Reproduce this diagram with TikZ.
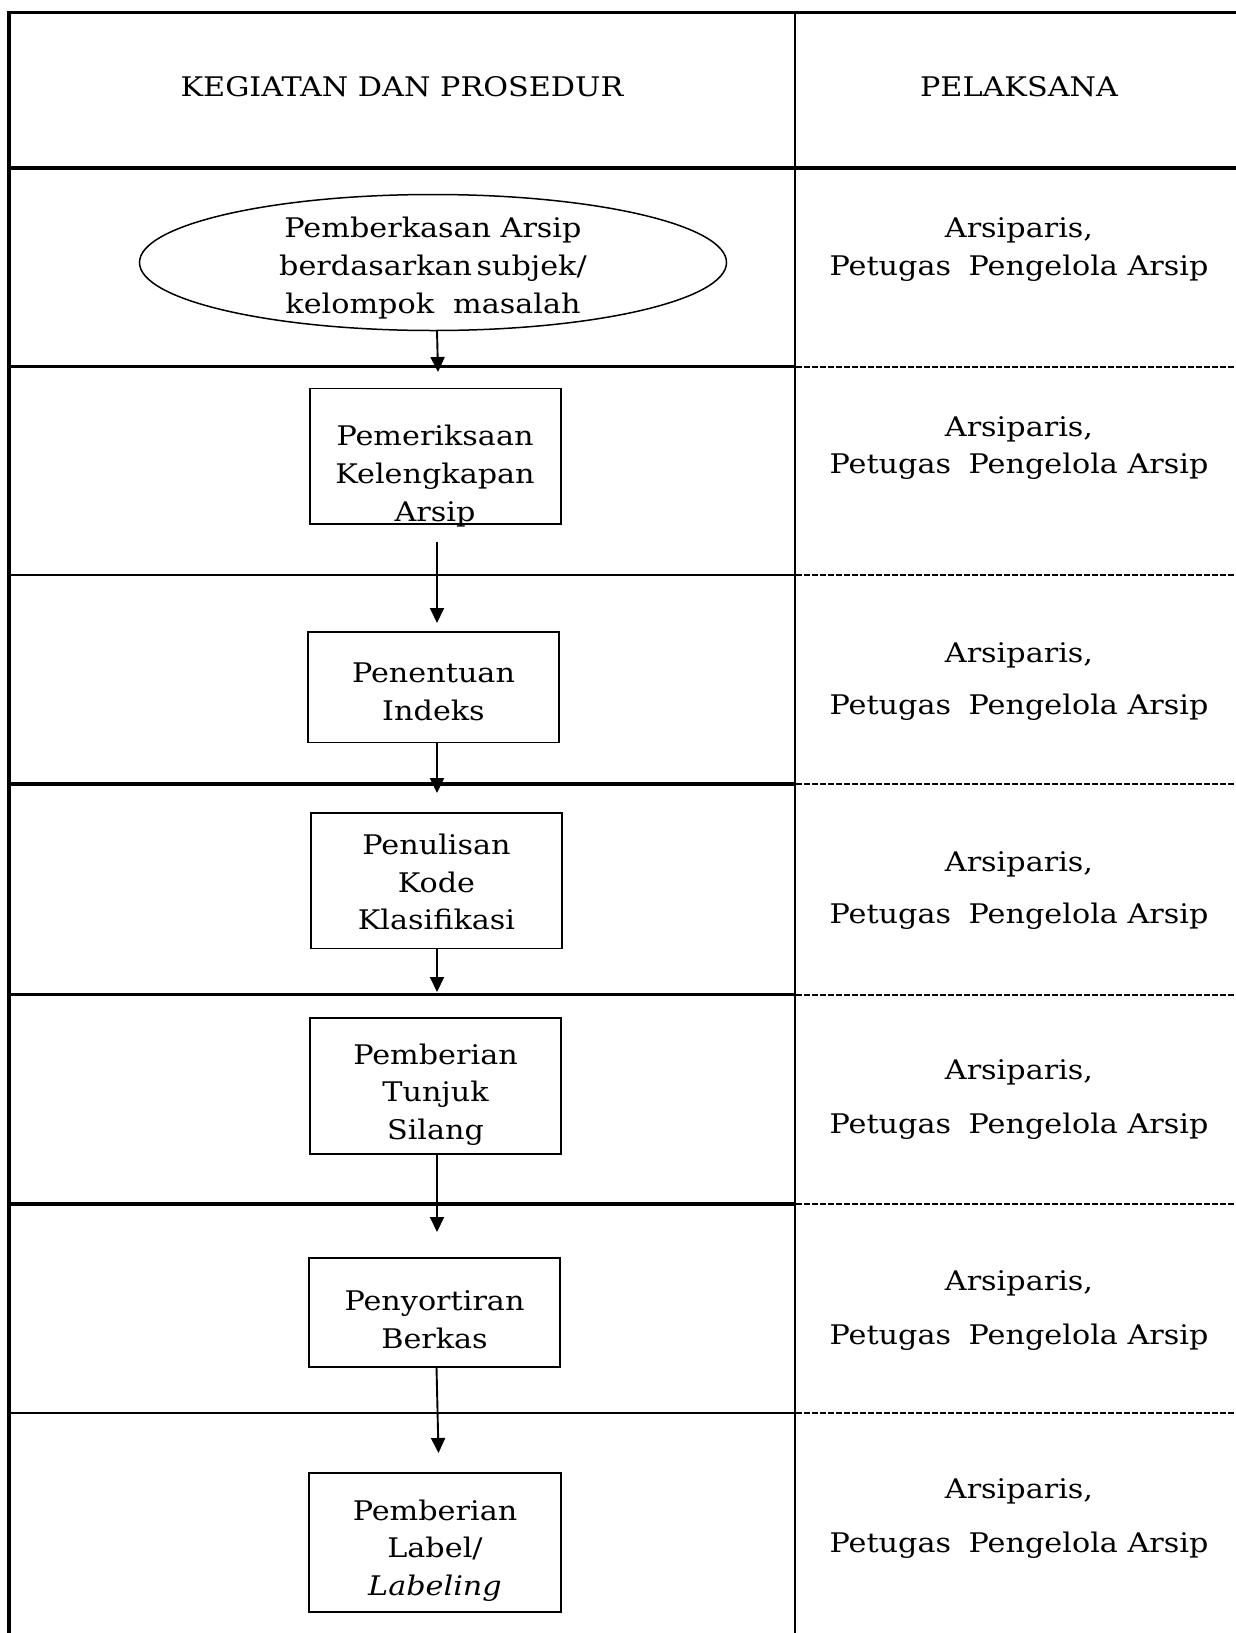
\documentclass[tikz,border=0pt]{standalone}
\usepackage{fontspec}
\setmainfont{DejaVu Serif}[FakeStretch=1.12]
\usetikzlibrary{arrows.meta,shapes.geometric}
\begin{document}
\begin{tikzpicture}[x=1pt,y=-1pt,
  txt/.style={font=\fontsize{27}{38}\selectfont, inner sep=0pt, outer sep=0pt, anchor=base},
  boxnode/.style={draw, line width=1.5pt, inner sep=0pt, outer sep=0pt},
  arr/.style={line width=1.9pt, -{Triangle[length=15pt,width=14pt]}},
  heavy/.style={line width=3.2pt},
  light/.style={line width=2.1pt},
  dotline/.style={line width=2pt, dash pattern=on 6pt off 2pt}]
\useasboundingbox (0,0) rectangle (1236,1633);
% table frame
\draw[heavy] (9,1633) -- (9,12.5) -- (1236,12.5);
\draw[line width=2.6pt] (795,12.5) -- (795,1633);
\draw[heavy] (9,168) -- (1236,168);
\foreach \y in {366.5,784,1204} \draw[heavy] (9,\y) -- (795,\y);
\foreach \y in {575,994.5,1413} \draw[light] (9,\y) -- (795,\y);
\foreach \y in {366.5,575,784,994.5,1204,1413} \draw[dotline] (796,\y) -- (1236,\y);
% header
\node[txt] (h1) at (402,96.5) {KEGIATAN DAN PROSEDUR};
\node[txt] (h2) at (1019,96.5) {PELAKSANA};
% shapes
\node[draw, ellipse, line width=1.5pt, inner sep=0pt, outer sep=0pt, minimum width=587pt, minimum height=136pt] (e) at (433,262.5) {};
\node[boxnode, minimum width=251pt, minimum height=135.5pt] (b1) at (435.5,456.25) {};
\node[boxnode, minimum width=251pt, minimum height=110.5pt] (b2) at (433.5,687.25) {};
\node[boxnode, minimum width=251pt, minimum height=135.6pt] (b3) at (436.5,880.8) {};
\node[boxnode, minimum width=251pt, minimum height=136pt] (b4) at (435.5,1086) {};
\node[boxnode, minimum width=251pt, minimum height=109pt] (b5) at (434.5,1312.5) {};
\node[boxnode, minimum width=252pt, minimum height=139pt] (b6) at (435,1542.5) {};
% texts in shapes
\foreach \t [count=\i] in {Pemberkasan Arsip,berdasarkan\,subjek/,kelompok\hspace{0.35em} masalah}
  \node[txt] (et\i) at (433,{237+38.3*(\i-1)}) {\t};
\foreach \t [count=\i] in {Pemeriksaan,Kelengkapan,Arsip}
  \node[txt] (b1t\i) at (435,{445+38.3*(\i-1)}) {\t};
\foreach \t [count=\i] in {Penentuan,Indeks}
  \node[txt] (b2t\i) at (433.5,{682.5+37.5*(\i-1)}) {\t};
\foreach \t [count=\i] in {Penulisan,Kode,Klasifikasi}
  \node[txt] (b3t\i) at (436.5,{854.5+37.5*(\i-1)}) {\t};
\foreach \t [count=\i] in {Pemberian,Tunjuk,Silang}
  \node[txt] (b4t\i) at (435.5,{1064+37.5*(\i-1)}) {\t};
\foreach \t [count=\i] in {Penyortiran,Berkas}
  \node[txt] (b5t\i) at (434.5,{1310.5+37.5*(\i-1)}) {\t};
\foreach \t [count=\i] in {Pemberian,Label/,\textit{Labeling}}
  \node[txt] (b6t\i) at (435,{1520+37.5*(\i-1)}) {\t};
% right column
\foreach \ya/\yb [count=\i] in {237/275.5,436/473,662/714,871/923,1079/1133.5,1290/1344,1498/1552}{
  \node[txt] (ra\i) at (1019,\ya) {Arsiparis,};
  \node[txt] (rb\i) at (1019,\yb) {Petugas\hspace{0.3em} Pengelola Arsip};
}
% connectors
\coordinate (a0) at (438,372);
\coordinate (s1) at (437,541.5);
\coordinate (a1) at (437,623);
\coordinate (a2) at (437,793);
\coordinate (a3) at (437,992);
\coordinate (a4) at (437,1232);
\coordinate (a5) at (438.5,1453);
\draw[arr] (e.south -| a0) ++(-1,0) -- (a0);
\draw[arr] (s1) -- (a1);
\draw[arr] (b2.south -| a2) -- (a2);
\draw[arr] (b3.south -| a3) -- (a3);
\draw[arr] (b4.south -| a4) -- (a4);
\draw[arr] (b5.south -| a5) ++(-2,0) -- (a5);
\end{tikzpicture}
\end{document}
